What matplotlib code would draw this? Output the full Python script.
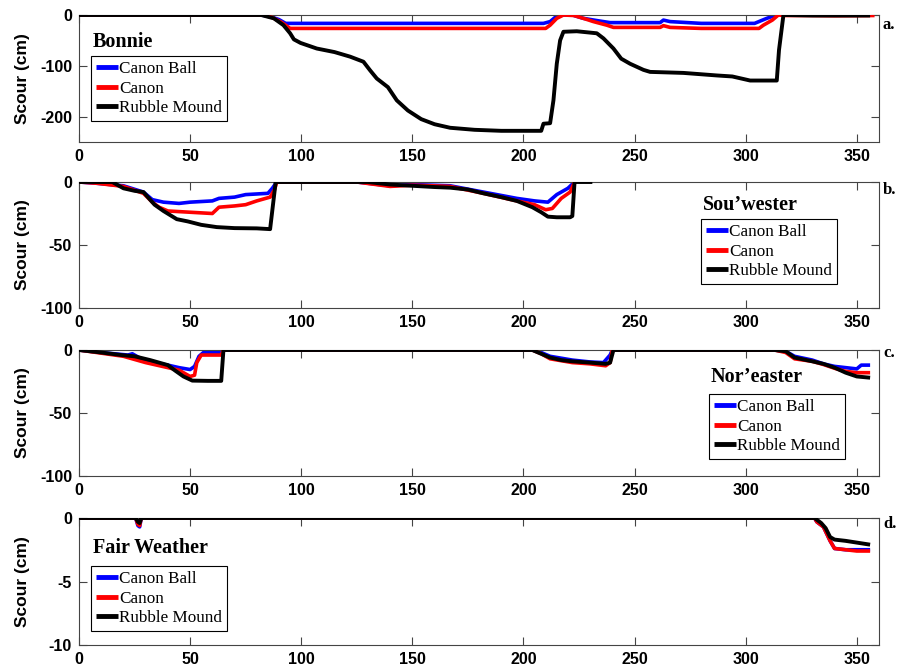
import matplotlib
matplotlib.use("Agg")
import matplotlib.pyplot as plt

plt.rcParams["axes.unicode_minus"] = False

# ---------------- data ----------------
names = ["Canon Ball", "Canon", "Rubble Mound"]
colors = ["#0000ff", "#ff0000", "#000000"]
titles = ["Bonnie", "Sou\u2019wester", "Nor\u2019easter", "Fair Weather"]
panel_labels = ["a.", "b.", "c.", "d."]
ylims = [(-250, 0), (-100, 0), (-100, 0), (-10, 0)]
yticks = [[-200, -100, 0], [-100, -50, 0], [-100, -50, 0], [-10, -5, 0]]
xticks = [0, 50, 100, 150, 200, 250, 300, 350]

# Panel a: Bonnie
a_blue_x = [0, 82, 86, 90, 93, 150, 209, 212, 215, 218, 222, 227, 234.5, 239, 261.5, 263, 266, 280, 304, 306.5, 309.5, 312.5, 314]
a_blue_y = [0, 0, -3, -9, -16.5, -16.5, -16.5, -13, -2, 0, 0, -6.6, -12, -15, -15, -10, -13, -16.5, -16.5, -12, -6.6, -2, 0]
a_red_x = [0, 83, 87, 91, 95, 150, 210, 212, 215, 218, 222.7, 227, 231.5, 237.5, 240.5, 261.5, 263, 266, 280, 306, 308, 312, 314.7, 317, 330, 340, 358]
a_red_y = [0, 0, -5, -14, -26.4, -26.4, -26.4, -20, -6.6, 0, -1, -6.6, -13, -20, -24.4, -24.4, -21, -24.4, -26.4, -26.4, -20, -10, 0, -1, -1, -1.5, -1]
a_black_x = [0, 82, 87.7, 92, 95, 96.7, 99.7, 107, 115, 122, 128, 131, 134, 139, 143, 148, 154, 160, 167, 178, 190, 200, 208, 209, 212, 213.5, 215, 216.5, 218, 224, 233, 236, 240.5, 244, 248, 254, 257, 272, 287, 294, 302, 314, 315, 317, 330, 345, 356]
a_black_y = [0, 0, -6.6, -20, -36, -48, -55, -66, -73, -82, -92, -109, -125, -142, -168, -188, -205, -215, -222, -226, -228, -228, -228, -214, -213, -168, -96, -50, -33, -32, -36, -46, -66, -86, -96, -108, -112, -114, -119, -121, -129, -129, -69, 0, -1, -1, -1]

# Panel b: Sou'wester
b_blue_x = [0, 8, 20, 29, 33, 38, 45, 50, 60, 63, 70, 75, 85, 87, 89, 125, 140, 150, 167, 182, 197, 205, 211, 215, 220, 223]
b_blue_y = [0, -1, -3, -8, -14, -16, -17, -16, -15, -13, -12, -10, -9, -5, 0, 0, -3, -2, -3, -8, -13, -15, -16, -10, -5, 0]
b_red_x = [0, 8, 20, 29, 33, 36, 40, 50, 60, 63, 70, 75, 80, 86, 88, 89, 125, 140, 150, 167, 182, 197, 205, 210, 213, 217, 221, 223]
b_red_y = [0, -1, -3.5, -9, -16, -20, -23, -24, -25, -20, -19, -18, -15, -12, -6, 0, 0, -3.5, -2.5, -3.5, -9, -15, -18, -22, -21, -13, -8, 0]
b_black_x = [0, 15, 17, 20, 25, 29, 31.5, 34, 38, 44, 49, 55, 62, 70, 80, 86, 88.5, 130, 140, 150, 160, 167, 175, 182, 190, 197, 204, 208, 211, 215, 221, 222, 223, 231]
b_black_y = [0, 0, -2, -5, -7, -8, -13, -18, -23, -29.5, -31.3, -34, -35.8, -36.6, -36.8, -37.4, 0, 0, -2, -3, -4, -4.5, -6, -9, -12, -15, -20, -24, -27.5, -28, -28, -27, 0, 0]

# Panel c: Nor'easter
c_blue_x = [0, 10, 22, 24, 30, 40, 45, 50, 52, 54, 56, 64, 65, 204, 208, 212, 222, 230, 236, 239, 240, 313, 318, 322, 330, 335, 340, 345, 350, 352, 356]
c_blue_y = [0, -2, -4, -3, -9, -12, -14, -15.5, -13, -5, -2, -2, 0, 0, -2, -5, -8, -9.5, -10, -4, 0, 0, -1, -5, -8, -11, -13, -14, -15, -12, -12]
c_red_x = [0, 10, 20, 30, 40, 45, 50, 52, 53, 55, 64, 65, 204, 208, 212, 222, 230, 237, 239, 240, 313, 318, 322, 330, 335, 340, 345, 350, 356]
c_red_y = [0, -2.5, -5, -10, -14, -16, -21, -20, -10, -4, -4, 0, 0, -3, -7, -10, -11, -12.5, -10, 0, 0, -2, -7, -9, -11.5, -14.5, -17, -18, -18]
c_black_x = [0, 10, 19, 25, 32, 40, 43, 47, 51, 58, 64, 65, 204, 208, 212, 217, 222, 230, 237, 239, 240.5, 313, 318, 322, 330, 335, 340, 345, 350, 356]
c_black_y = [0, -2, -4, -5, -8, -12, -16, -21, -24.3, -24.5, -24.5, 0, 0, -3, -6, -8, -9, -10, -11, -10, 0, 0, -1, -6, -9, -11, -14, -18, -21, -22]

# Panel d: Fair Weather
d_blue_x = [0, 25.5, 26.5, 27.3, 28, 331, 332, 335, 338, 340, 345, 350, 356]
d_blue_y = [0, 0, -0.6, -0.7, 0, 0, -0.3, -0.7, -1.8, -2.4, -2.5, -2.5, -2.5]
d_red_x = [0, 25.5, 26.5, 27.3, 28, 331, 332, 335, 338, 340, 345, 350, 356]
d_red_y = [0, 0, -0.5, -0.6, 0, 0, -0.3, -0.7, -1.8, -2.4, -2.5, -2.6, -2.6]
d_black_x = [0, 25.5, 26.5, 27.3, 28, 331, 334, 336, 338, 340, 345, 356]
d_black_y = [0, 0, -0.3, -0.4, 0, 0, -0.4, -0.8, -1.5, -1.7, -1.8, -2.1]

series = [
    [(a_blue_x, a_blue_y), (a_red_x, a_red_y), (a_black_x, a_black_y)],
    [(b_blue_x, b_blue_y), (b_red_x, b_red_y), (b_black_x, b_black_y)],
    [(c_blue_x, c_blue_y), (c_red_x, c_red_y), (c_black_x, c_black_y)],
    [(d_blue_x, d_blue_y), (d_red_x, d_red_y), (d_black_x, d_black_y)],
]

# ---------------- layout ----------------
W, H = 899, 672
axes_px = [(15, 142), (182, 308), (350, 476), (518, 645)]  # top, bottom in pixels
left_px, right_px = 79, 879
title_pos = [(0.0175, 0.787), (0.78, 0.817), (0.79, 0.786), (0.0175, 0.764)]
legend_pos = [(0.015, 0.677), (0.7775, 0.706), (0.7875, 0.651), (0.015, 0.622)]
label_pos = [0.92, 0.936, 0.976, 0.953]

sans = "Liberation Sans"
serif = "Liberation Serif"

fig = plt.figure(figsize=(W / 100, H / 100), dpi=100)
for i in range(4):
    top, bot = axes_px[i]
    ax = fig.add_axes([left_px / W, 1 - bot / H, (right_px - left_px) / W, (bot - top) / H])
    for j, (xs, ys) in enumerate(series[i]):
        ax.plot(xs, ys, color=colors[j], lw=2.6 if j < 2 else 2.8, label=names[j],
                solid_capstyle="butt", zorder=2 + j)
    ax.set_xlim(0, 360)
    ax.set_ylim(*ylims[i])
    ax.set_xticks(xticks)
    ax.set_yticks(yticks[i])
    ax.tick_params(direction="in", top=True, right=True, length=6, width=0.8,
                   color="#444444", labelsize=11.5, pad=5)
    for lab in ax.get_xticklabels() + ax.get_yticklabels():
        lab.set_fontfamily(sans)
        lab.set_fontweight("bold")
    for s in ax.spines.values():
        s.set_color("#444444")
        s.set_linewidth(0.8)
    ax.set_ylabel("Scour (cm)", fontfamily=sans, fontweight="bold", fontsize=12.5)
    ax.yaxis.set_label_coords(-0.061, 0.5)
    ax.text(title_pos[i][0], title_pos[i][1], titles[i], transform=ax.transAxes,
            fontfamily=serif, fontweight="bold", fontsize=14.5, ha="left", va="center")
    ax.text(1.005, label_pos[i], panel_labels[i], transform=ax.transAxes,
            fontfamily=serif, fontweight="bold", fontsize=12, ha="left", va="center")
    leg = ax.legend(loc="upper left", bbox_to_anchor=legend_pos[i], borderaxespad=0,
                    prop={"family": serif, "size": 12.3}, frameon=True, fancybox=False,
                    handlelength=1.3, handletextpad=0.05, labelspacing=0.22,
                    borderpad=0.28, framealpha=1)
    leg.get_frame().set_edgecolor("black")
    leg.get_frame().set_linewidth(0.8)
    for h in leg.get_lines():
        h.set_linewidth(3.5)

fig.savefig("out.png", dpi=100)
